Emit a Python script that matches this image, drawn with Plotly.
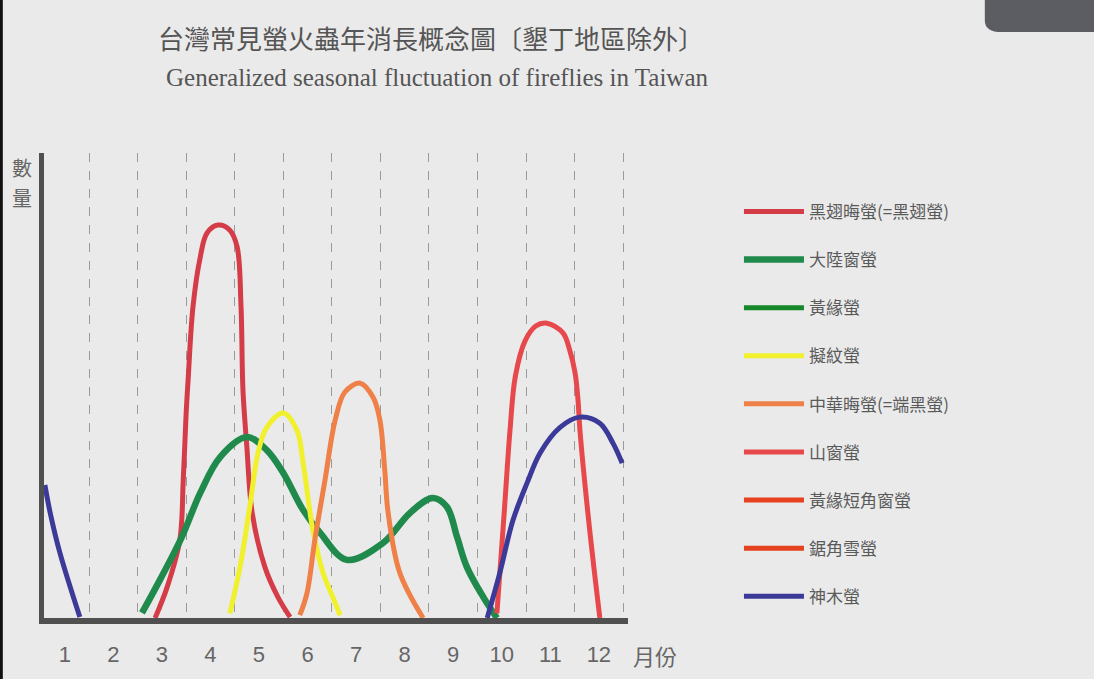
import plotly.graph_objects as go

# month axis: month i spans [i-1, i]; values are relative abundance 0..100
months = ["1", "2", "3", "4", "5", "6", "7", "8", "9", "10", "11", "12"]

# 黑翅晦螢(=黑翅螢)
kuro_x = [2.36, 2.61, 2.87, 2.94, 3.0, 3.04, 3.14, 3.29, 3.43, 3.66, 3.9, 4.05, 4.13, 4.17, 4.25, 4.36, 4.62, 4.89, 5.14]
kuro_y = [0, 6.7, 16.8, 29.7, 44.1, 51.2, 66.9, 77.6, 82.8, 84.5, 83.4, 79.8, 66.9, 49, 36.8, 22.6, 11, 4.5, 0.2]

# 大陸窗螢
tairiku_x = [2.09, 2.46, 2.91, 3.29, 3.7, 4.25, 4.66, 5.0, 5.41, 5.76, 6.31, 7.05, 7.61, 8.08, 8.37, 8.58, 8.78, 9.12, 9.4]
tairiku_y = [1.1, 8.2, 17.4, 26.9, 34.6, 38.9, 36.1, 31.2, 23.2, 18.3, 12.5, 16.1, 22.6, 25.8, 23.9, 17.4, 11, 4.5, 0]

# 黃緣螢 (no curve visible on the chart)
kouen_x = [None]
kouen_y = [None]

# 擬紋螢
gimon_x = [3.9, 4.11, 4.31, 4.48, 4.66, 5.0, 5.28, 5.41, 5.61, 5.82, 6.02, 6.17]
gimon_y = [1, 11, 23.9, 35.5, 41, 44.1, 40.4, 33.3, 18.9, 9.7, 4.5, 0.6]

# 中華晦螢(=端黑螢)
chuka_x = [5.34, 5.49, 5.65, 5.86, 6.07, 6.27, 6.58, 6.85, 6.99, 7.09, 7.16, 7.4, 7.88]
chuka_y = [0.6, 5.4, 16.8, 29.7, 42.6, 48.6, 50.5, 47.5, 42.6, 31.8, 22.6, 9.7, 0]

# 山窗螢
yama_x = [9.4, 9.55, 9.67, 9.78, 9.98, 10.2, 10.43, 10.76, 10.9, 11.01, 11.07, 11.11, 11.3, 11.52]
yama_y = [1, 22.6, 40.4, 52, 59.6, 62.8, 63.4, 61.3, 57.6, 52.7, 46.9, 40.4, 20, 0]

# 黃緣短角窗螢, 鋸角雪螢 (no curve visible on the chart)
tankaku_x = [None]
tankaku_y = [None]
kyokaku_x = [None]
kyokaku_y = [None]

# 神木螢 (wraps around the year)
shinboku_x = [0.09, 0.2, 0.4, 0.81, None, 9.2, 9.46, 9.73, 10.02, 10.29, 10.7, 11.11, 11.52, 11.79, 11.98]
shinboku_y = [28.6, 22.6, 14, 0.2, None, 0, 9.7, 21, 29, 35.5, 41, 43.2, 41.9, 37.6, 33.3]

series = [
    ("黑翅晦螢(=黑翅螢)", kuro_x, kuro_y, "#d43c48", 5),
    ("大陸窗螢", tairiku_x, tairiku_y, "#1f8a4c", 6.5),
    ("黃緣螢", kouen_x, kouen_y, "#16882a", 5),
    ("擬紋螢", gimon_x, gimon_y, "#f0f02c", 5),
    ("中華晦螢(=端黑螢)", chuka_x, chuka_y, "#ee8048", 5),
    ("山窗螢", yama_x, yama_y, "#e6484c", 5),
    ("黃緣短角窗螢", tankaku_x, tankaku_y, "#e6401f", 5),
    ("鋸角雪螢", kyokaku_x, kyokaku_y, "#e4421f", 5),
    ("神木螢", shinboku_x, shinboku_y, "#3c3a98", 5),
]

fig = go.Figure()
for name, xs, ys, color, w in series:
    fig.add_trace(go.Scatter(
        x=xs, y=ys, name=name, mode="lines", legendgroup=name,
        line=dict(color=color, width=w, shape="spline", smoothing=1),
        connectgaps=False, showlegend=True,
    ))

grey = "#555555"
fig.update_layout(
    width=1094, height=679,
    margin=dict(l=44, r=466, t=153, b=61),
    paper_bgcolor="#eaeaea",
    plot_bgcolor="#eaeaea",
    font=dict(family="Noto Sans CJK TC", color=grey),
    showlegend=True,
    legend=dict(
        x=1.19, y=0.912, xanchor="left", yanchor="top",
        bgcolor="rgba(0,0,0,0)", tracegroupgap=23, itemwidth=60,
        font=dict(family="Noto Sans CJK TC", size=17, color="#5a5a5a"),
    ),
    xaxis=dict(
        range=[0.072, 12.1],
        tickmode="array",
        tickvals=[i + 0.5 for i in range(12)],
        ticktext=months,
        ticks="", showgrid=False, zeroline=False,
        showline=True, linewidth=6, linecolor="#505050",
        tickfont=dict(family="Liberation Sans Narrow, Liberation Sans", size=22, color="#666666"),
        ticklabelstandoff=12,
        minor=dict(tickmode="array", tickvals=list(range(1, 13)), showgrid=True,
                   griddash="dash", gridcolor="#9a9a9a", gridwidth=1, ticks=""),
    ),
    yaxis=dict(
        range=[0, 100], showticklabels=False, ticks="", showgrid=False, zeroline=False,
        showline=True, linewidth=5, linecolor="#505050",
    ),
    annotations=[
        dict(text="台灣常見螢火蟲年消長概念圖〔墾丁地區除外〕", xref="paper", yref="paper",
             x=0.663, y=1.248, xanchor="center", yanchor="middle", showarrow=False,
             font=dict(family="Noto Sans CJK TC", size=26, color="#555555")),
        dict(text="Generalized seasonal fluctuation of fireflies in Taiwan", xref="paper", yref="paper",
             x=0.673, y=1.163, xanchor="center", yanchor="middle", showarrow=False,
             font=dict(family="Liberation Serif", size=25, color="#555555")),
        dict(text="數", xref="paper", yref="paper", x=-0.038, y=0.968, xanchor="center",
             yanchor="middle", showarrow=False,
             font=dict(family="Noto Sans CJK TC", size=20, color="#666666")),
        dict(text="量", xref="paper", yref="paper", x=-0.038, y=0.904, xanchor="center",
             yanchor="middle", showarrow=False,
             font=dict(family="Noto Sans CJK TC", size=20, color="#666666")),
        dict(text="月份", xref="paper", yref="paper", x=1.046, y=-0.08, xanchor="center",
             yanchor="middle", showarrow=False,
             font=dict(family="Noto Sans CJK TC", size=22, color="#666666")),
    ],
    shapes=[
        dict(type="rect", xref="paper", yref="paper", x0=-0.08, x1=-0.0705, y0=-0.2, y1=1.35,
             fillcolor="#111111", line=dict(width=0), layer="above"),
        dict(type="path", xref="paper", yref="paper",
             path="M 1.611 1.35 L 1.611 1.285 Q 1.611 1.26 1.64 1.26 L 1.80 1.26 L 1.80 1.35 Z",
             fillcolor="#5b5d62", line=dict(width=0), layer="above"),
    ],
)

fig.write_html("out.html", config={"displayModeBar": False},
               post_script="document.body.style.margin='0px';")
